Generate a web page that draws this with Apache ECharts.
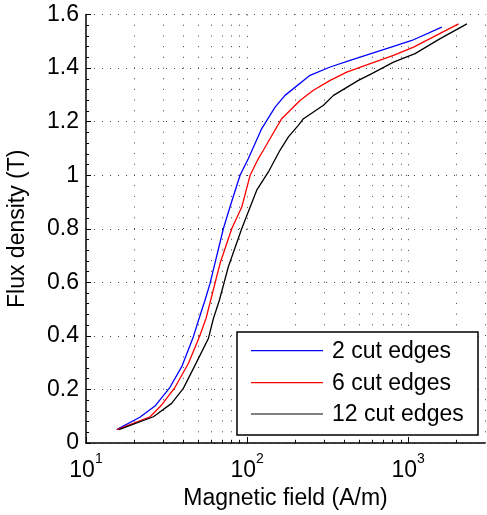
<!DOCTYPE html>
<html>
<head>
<meta charset="utf-8">
<script src="https://cdn.jsdelivr.net/npm/echarts@6/dist/echarts.min.js"></script>
<style>
  html, body { margin: 0; padding: 0; background: #fff; }
  #chart { width: 487px; height: 515px; }
</style>
</head>
<body>
<div id="chart"></div>
<script>
// B-H magnetisation curves for sheet samples with different numbers of cut edges
const seriesNames = ['2 cut edges', '6 cut edges', '12 cut edges'];
const seriesColors = ['#0000ff', '#ff0000', '#000000'];

const fieldTwo = [15.5, 21.6, 26.8, 33.2, 39.3, 46.4, 51.1, 54.8, 58.9, 71.3, 78.3, 90.5, 101.9, 123.3, 149.3, 172, 246, 328, 436, 811, 1054, 1619];
const fluxTwo  = [0.05, 0.096, 0.138, 0.208, 0.285, 0.397, 0.477, 0.533, 0.596, 0.801, 0.881, 1.0, 1.062, 1.174, 1.254, 1.298, 1.373, 1.404, 1.429, 1.481, 1.503, 1.553];

const fieldSix = [15.6, 25.0, 29.5, 35.7, 43.2, 50.6, 55.6, 67.9, 80.4, 92.7, 104.5, 117.5, 126.2, 139, 164, 213, 258, 328, 416, 491, 811, 1080, 2057];
const fluxSix  = [0.05, 0.098, 0.142, 0.208, 0.297, 0.397, 0.465, 0.670, 0.801, 0.881, 1.0, 1.062, 1.093, 1.137, 1.211, 1.279, 1.317, 1.354, 1.385, 1.401, 1.447, 1.478, 1.565];

const fieldTwelve = [16.0, 26.2, 34.0, 40.2, 48.7, 57.5, 61.8, 67.3, 76.5, 92.7, 114.8, 135.6, 160, 180.6, 208, 224, 298, 344, 491, 595, 811, 1104, 1581, 2317];
const fluxTwelve  = [0.05, 0.098, 0.148, 0.204, 0.303, 0.39, 0.465, 0.533, 0.658, 0.801, 0.944, 1.012, 1.093, 1.143, 1.186, 1.211, 1.261, 1.298, 1.354, 1.379, 1.422, 1.454, 1.51, 1.565];

// axis settings
const xMin = 10, xMax = 3000;
const xMajorValues = [10, 100, 1000];
const minorFieldValues = [20, 30, 40, 50, 60, 70, 80, 90, 200, 300, 400, 500, 600, 700, 800, 900, 2000, 3000];
const yMin = 0, yMax = 1.6, yStep = 0.2;

const pair = (xs, ys) => xs.map((x, i) => [x, ys[i]]);
const curves = [pair(fieldTwo, fluxTwo), pair(fieldSix, fluxSix), pair(fieldTwelve, fluxTwelve)];

const FONT = 'Liberation Sans, Arial, Helvetica, sans-serif';
const FS = 23;
const GRID_COLOR = '#444';

const chart = echarts.init(document.getElementById('chart'), null, { renderer: 'canvas' });

const lineSeries = curves.map((d, i) => ({
  name: seriesNames[i],
  type: 'line',
  data: d,
  symbol: 'none',
  smooth: false,
  z: 5,
  color: seriesColors[i],
  lineStyle: { color: seriesColors[i], width: 1.3 },
  itemStyle: { color: seriesColors[i] },
  emphasis: { disabled: true },
  animation: false
}));

// dotted minor grid (vertical) at 2..9 x each decade
const gridSeries = {
  name: 'minor-grid',
  type: 'line',
  data: [],
  z: 1,
  silent: true,
  animation: false,
  markLine: {
    silent: true,
    symbol: ['none', 'none'],
    label: { show: false },
    animation: false,
    lineStyle: { color: GRID_COLOR, width: 1, type: [1, 9.7] },
    emphasis: { disabled: true },
    data: minorFieldValues.map(v => ({ xAxis: v }))
  }
};
// short inward minor ticks on the field axis
const tickSeries = {
  name: 'minor-ticks',
  type: 'line',
  data: [],
  z: 3,
  silent: true,
  animation: false,
  markLine: {
    silent: true,
    symbol: ['none', 'none'],
    label: { show: false },
    animation: false,
    lineStyle: { color: '#000', width: 1, type: 'solid' },
    emphasis: { disabled: true },
    data: minorFieldValues.filter(v => v < xMax).map(v => [{ coord: [v, 0] }, { coord: [v, 0.012] }])
  }
};

// boxed key in the lower right: a coloured line sample and a label per curve
const keyBox = { x: 237, y: 332, width: 241, height: 103 };
const keyRowY = [350.7, 382.7, 414];
const keyLineX = [251, 323];
const keyTextX = 332;
const keyChildren = [{
  type: 'rect',
  shape: { x: keyBox.x, y: keyBox.y, width: keyBox.width, height: keyBox.height },
  style: { fill: '#fff', stroke: '#000', lineWidth: 1.5 },
  z: 100
}];
seriesNames.forEach((n, i) => {
  keyChildren.push({
    type: 'line',
    shape: { x1: keyLineX[0], y1: keyRowY[i], x2: keyLineX[1], y2: keyRowY[i] },
    style: { stroke: seriesColors[i], lineWidth: 1.2 },
    z: 101
  });
  keyChildren.push({
    type: 'text',
    x: keyTextX,
    y: keyRowY[i] + 1,
    style: { text: n, font: FS + 'px ' + FONT, fill: '#000', align: 'left', verticalAlign: 'middle' },
    z: 101
  });
});

chart.setOption({
  backgroundColor: '#fff',
  animation: false,
  textStyle: { fontFamily: FONT },
  grid: { left: 86, top: 14.5, right: 2, bottom: 72, containLabel: false, outerBoundsMode: 'none' },
  graphic: [{ type: 'group', silent: true, children: keyChildren }],
  xAxis: {
    type: 'log',
    logBase: 10,
    min: xMin,
    max: xMax,
    name: 'Magnetic field (A/m)',
    nameLocation: 'middle',
    nameGap: 42,
    nameTextStyle: { fontFamily: FONT, fontSize: FS, color: '#000' },
    axisLine: { show: true, onZero: false, lineStyle: { color: '#000', width: 1.5 } },
    axisTick: { show: true, inside: true, length: 6, customValues: xMajorValues, lineStyle: { color: '#000', width: 1 } },
    axisLabel: {
      margin: 9,
      color: '#000',
      customValues: xMajorValues,
      formatter: v => '{b|10}{s|' + Math.round(Math.log10(v)) + '}',
      rich: {
        b: { fontFamily: FONT, fontSize: FS, color: '#000', lineHeight: 30, verticalAlign: 'bottom' },
        s: { fontFamily: FONT, fontSize: 14, color: '#000', lineHeight: 30, verticalAlign: 'top' }
      }
    },
    splitLine: { show: true, lineStyle: { color: GRID_COLOR, width: 1, type: [1, 9.7] } },
    minorTick: { show: false },
    minorSplitLine: { show: false }
  },
  yAxis: {
    type: 'value',
    min: yMin,
    max: yMax,
    interval: yStep,
    name: 'Flux density (T)',
    nameLocation: 'middle',
    nameGap: 57,
    nameTextStyle: { fontFamily: FONT, fontSize: FS, color: '#000' },
    axisLine: { show: true, onZero: false, lineStyle: { color: '#000', width: 1.5 } },
    axisTick: { show: true, inside: true, length: 5, lineStyle: { color: '#000', width: 1 } },
    minorTick: { show: true, splitNumber: 5, length: 3, lineStyle: { color: '#000', width: 1 } },
    axisLabel: {
      margin: 7,
      color: '#000',
      fontFamily: FONT,
      fontSize: FS,
      formatter: v => (Math.abs(v) < 1e-9 ? '0' : String(Math.round(v * 10) / 10))
    },
    splitLine: { show: true, lineStyle: { color: GRID_COLOR, width: 1, type: [1, 7] } }
  },
  series: [gridSeries, tickSeries].concat(lineSeries)
});
</script>
</body>
</html>
